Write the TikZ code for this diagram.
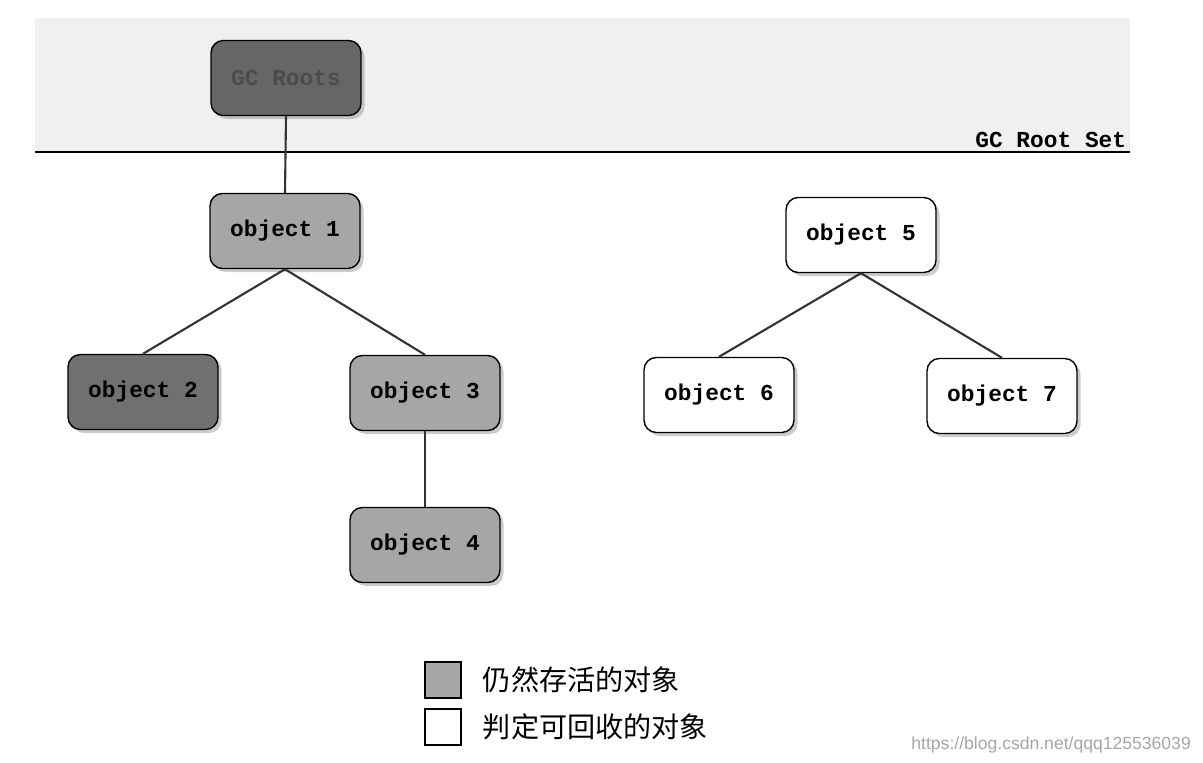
\documentclass[tikz,border=0pt]{standalone}
\usepackage{fontspec}
\setmonofont{Liberation Mono}
\setsansfont{Liberation Sans}
\newfontfamily\cjk{Noto Sans CJK SC}
\usetikzlibrary{positioning, shadows}

\begin{document}
\begin{tikzpicture}[
    x=0.02cm, y=-0.02cm,
    every node/.style={font=\ttfamily\bfseries\fontsize{13}{15}\selectfont}, % 统一字体
    obj/.style={draw=black, thick, rounded corners=7pt, minimum width=3cm, minimum height=1.5cm,
                drop shadow={shadow xshift=2pt, shadow yshift=-2pt, opacity=0.4}},
    live/.style={obj, fill=gray!70},
    dark/.style={obj, fill=gray!100!black!75},
    dead/.style={obj, fill=white},
    link/.style={black!80, semithick, line width=1.2pt},
    key/.style={draw=black, thick, minimum size=0.72cm, inner sep=0pt}
]
    \useasboundingbox (0,0) rectangle (1203,763);
    % 1. GC Root Set 区域
    \fill[gray!12] (35,18) rectangle (1130,152);
    \draw[thick] (35,152) -- (1130,152);
    \node[anchor=south east, inner sep=2pt] (rootset) at (1130,152) {GC Root Set};

    % 2. 节点
    \node[dark, fill=gray!80!black, text=black!70] (roots) at (286,78) {GC Roots};
    \node[live] (o1) at (285,231) {object 1};
    \node[dark, fill=gray!75!black!90] (o2) at (143,392) {object 2};
    \node[live] (o3) at (425,393) {object 3};
    \node[live] (o4) at (425,545) {object 4};
    \node[dead] (o5) at (861,235) {object 5};
    \node[dead] (o6) at (719,395) {object 6};
    \node[dead] (o7) at (1002,396) {object 7};

    % 3. 连线
    \draw[link] (roots.south) -- (o1.north);
    \draw[link] (o1.south) -- (o2.north);
    \draw[link] (o1.south) -- (o3.north);
    \draw[link] (o3.south) -- (o4.north);
    \draw[link] (o5.south) -- (o6.north);
    \draw[link] (o5.south) -- (o7.north);

    % 4. 图例
    \node[key, fill=gray!70] (k1) at (443,680) {};
    \node[key, fill=white] (k2) at (443,727) {};
    \node[right=0.3cm of k1, font=\cjk\fontsize{16}{19}\selectfont] (t1) {仍然存活的对象};
    \node[right=0.3cm of k2, font=\cjk\fontsize{16}{19}\selectfont] (t2) {判定可回收的对象};
    \node[anchor=east, font=\sffamily\fontsize{10}{12}\selectfont, text=gray!70] (wm) at (1197,745) {https://blog.csdn.net/qqq125536039};
\end{tikzpicture}
\end{document}
